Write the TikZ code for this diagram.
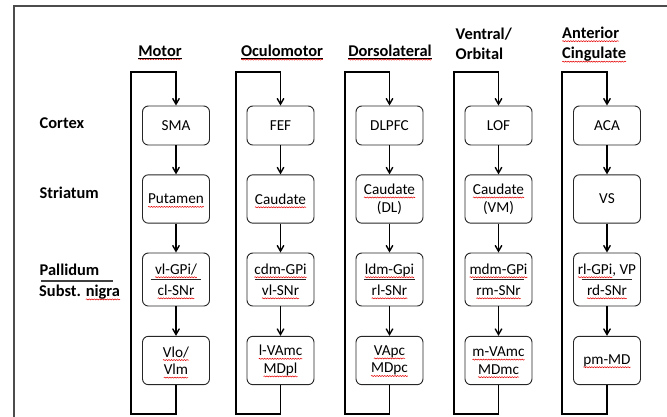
\documentclass[tikz,border=0pt]{standalone}
\usepackage{fontspec}
\setmainfont{Carlito}
\usetikzlibrary{positioning,calc}
\usetikzlibrary{arrows}
\usetikzlibrary{decorations.pathmorphing}

% red spell-check squiggle under a word
\newcommand{\sq}[1]{\tikz[baseline=(sqw.base)]{\node[draw=none,fill=none,inner sep=0pt,outer sep=0pt,minimum width=0pt,minimum height=0pt,rounded corners=0pt,anchor=base] (sqw) {#1};\draw[overlay,-,red!90!black,line width=0.45pt,rounded corners=0pt,decorate,decoration={snake,amplitude=0.45pt,segment length=2.2pt}] ([yshift=-2.6pt]sqw.base west) -- ([yshift=-2.6pt]sqw.base east);}}

\begin{document}
\begin{tikzpicture}[x=0.03cm, y=-0.03cm, >=angle 60, line width=1.2pt,
  box/.style={draw=black!85, line width=0.8pt, rounded corners=5pt, minimum width=2.01cm,
    minimum height=1.45cm, align=center, inner sep=1pt, font=\fontsize{13}{15}\selectfont},
  ctxbox/.style={box, minimum height=1.17cm},
  palbox/.style={box, minimum height=1.59cm},
  rowlbl/.style={anchor=west, inner sep=0pt, font=\bfseries\fontsize{14}{16}\selectfont},
  head/.style={inner sep=0pt, align=left, font=\bfseries\fontsize{14}{17.5}\selectfont}]
\useasboundingbox (0,0) rectangle (667,417);
\draw[black!70, line width=1.3pt] (14,417) -- (14,6) -- (667,6);

% column headers
\node[head] (h-motor) at (160,52) {\underline{\sq{Motor}}};
\node[head] (h-oculo) at (282,52) {\underline{\sq{Oculomotor}}};
\node[head] (h-dlat) at (390,52) {\underline{\sq{Dorsolateral}}};
\node[head, anchor=west] (h-vorb) at (455,44) {Ventral/\\Orbital};
\node[head, anchor=west] (h-acing) at (562,44) {\sq{Anterior}\\\sq{Cingulate}};

% row labels
\node[rowlbl] (r-ctx) at (39,123) {Cortex};
\node[rowlbl] (r-str) at (39,193) {Striatum};
\node[rowlbl] (r-pal) at (39,270) {Pallidum};
\node[rowlbl] (r-sn) at (39,292) {Subst. \sq{nigra}};
\draw[black!75, line width=1pt] ($(r-pal.west)!0.5!(r-sn.west)+(2,0)$) -- ++(72,0);

% Motor
\node[ctxbox] (ctx-motor) at (176,125.5) {SMA};
\node[box] (str-motor) at (176,199) {\sq{Putamen}};
\node[palbox] (pal-motor) at (176,279.5) {\sq{vl-GPi/}\\[3pt]\sq{cl-SNr}};
\node[box] (tha-motor) at (176,360.5) {\sq{Vlo/}\\\sq{Vlm}};

% Oculomotor
\node[ctxbox] (ctx-oculo) at (280.5,125.5) {FEF};
\node[box] (str-oculo) at (280.5,199) {\sq{Caudate}};
\node[palbox] (pal-oculo) at (280.5,279.5) {\sq{cdm-GPi}\\[3pt]\sq{vl-SNr}};
\node[box] (tha-oculo) at (280.5,360.5) {\sq{l-VAmc}\\\sq{MDpl}};

% Dorsolateral
\node[ctxbox] (ctx-dlat) at (389.5,125.5) {DLPFC};
\node[box] (str-dlat) at (389.5,199) {\sq{Caudate}\\(DL)};
\node[palbox] (pal-dlat) at (389.5,279.5) {\sq{ldm-Gpi}\\[3pt]\sq{rl-SNr}};
\node[box] (tha-dlat) at (389.5,360.5) {\sq{VApc}\\\sq{MDpc}};

% Ventral / Orbital
\node[ctxbox] (ctx-vorb) at (498.5,125.5) {LOF};
\node[box] (str-vorb) at (498.5,199) {\sq{Caudate}\\(VM)};
\node[palbox] (pal-vorb) at (498.5,279.5) {\sq{mdm-GPi}\\[3pt]\sq{rm-SNr}};
\node[box] (tha-vorb) at (498.5,360.5) {\sq{m-VAmc}\\\sq{MDmc}};

% Anterior cingulate
\node[ctxbox] (ctx-acing) at (607,125.5) {ACA};
\node[box] (str-acing) at (607,199) {VS};
\node[palbox] (pal-acing) at (607,279.5) {\sq{rl-GPi}, VP\\[3pt]\sq{rd-SNr}};
\node[box] (tha-acing) at (607,360.5) {\sq{pm-MD}};

\foreach \c/\lx in {motor/131, oculo/236, dlat/345, vorb/454, acing/562} {
  \draw[->] (ctx-\c) -- (str-\c);
  \draw[->] (str-\c) -- (pal-\c);
  \draw[->] (pal-\c) -- (tha-\c);
  \draw[->] (tha-\c.south) |- (\lx,414) -- (\lx,72) -| (ctx-\c.north);
  \draw[black!85, line width=0.8pt] ([xshift=-0.76cm]pal-\c.center) -- ([xshift=0.76cm]pal-\c.center);
}
\end{tikzpicture}
\end{document}
